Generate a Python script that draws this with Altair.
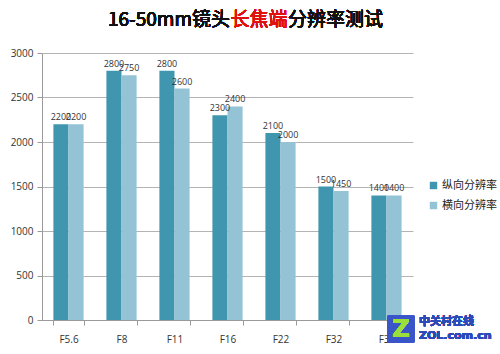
import altair as alt
import pandas as pd

categories = ["F5.6", "F8", "F11", "F16", "F22", "F32", "F36"]
series_names = ["纵向分辨率", "横向分辨率"]
vertical = [2200, 2800, 2800, 2300, 2100, 1500, 1400]
horizontal = [2200, 2750, 2600, 2400, 2000, 1450, 1400]
colors = ["#4196af", "#93c3d5"]
y_ticks = [0, 500, 1000, 1500, 2000, 2500, 3000]

rows = []
for c, v, h in zip(categories, vertical, horizontal):
    rows.append({"aperture": c, "series": series_names[0], "value": v})
    rows.append({"aperture": c, "series": series_names[1], "value": h})
df = pd.DataFrame(rows)

FONT = "Noto Sans CJK SC"
NUMFONT = "Open Sans"

x_enc = alt.X(
    "aperture:N", sort=categories,
    scale=alt.Scale(paddingInner=0.43, paddingOuter=0.215),
    axis=alt.Axis(title=None, labelAngle=0, tickBand="extent", tickSize=5,
                  tickColor="#9a9a9a", domainColor="#9a9a9a",
                  labelFont=NUMFONT, labelFontSize=10, labelColor="#333333",
                  labelPadding=9),
)
xo_enc = alt.XOffset("series:N", sort=series_names,
                     scale=alt.Scale(paddingInner=0, paddingOuter=0))
y_enc = alt.Y(
    "value:Q", scale=alt.Scale(domain=[0, 3000], nice=False),
    axis=alt.Axis(title=None, values=y_ticks, format="d", grid=True, gridColor="#b4b4b4",
                  domainColor="#9a9a9a", tickColor="#9a9a9a", tickSize=5,
                  labelFont=NUMFONT, labelFontSize=10, labelColor="#333333",
                  labelPadding=4),
)

bars = alt.Chart(df).mark_bar().encode(
    x=x_enc, xOffset=xo_enc, y=y_enc,
    color=alt.Color("series:N", sort=series_names,
                    scale=alt.Scale(domain=series_names, range=colors),
                    legend=alt.Legend(title=None, orient="none", legendX=386, legendY=127,
                                      symbolType="square", symbolSize=55,
                                      symbolStrokeWidth=0,
                                      labelFont=FONT, labelFontSize=11, labelOffset=3,
                                      labelColor="#222222", rowPadding=8)),
)

labels = alt.Chart(df).mark_text(
    baseline="bottom", dy=-2, font=NUMFONT, fontSize=9, color="#333333"
).encode(x=alt.X("aperture:N", sort=categories), xOffset=xo_enc,
         y="value:Q", text="value:Q")

t_left = alt.Chart(df).mark_text(
    text="16-50mm镜头", align="right", baseline="middle", font=FONT,
    fontWeight="normal", fontSize=19, color="#111111"
).encode(x=alt.value(188), y=alt.value(-33))
t_mid = alt.Chart(df).mark_text(
    text="长焦端", align="center", baseline="middle", font=FONT,
    fontWeight="normal", fontSize=19, color="#e01010"
).encode(x=alt.value(217), y=alt.value(-33))
t_right = alt.Chart(df).mark_text(
    text="分辨率测试", align="left", baseline="middle", font=FONT,
    fontWeight="normal", fontSize=19, color="#111111"
).encode(x=alt.value(246), y=alt.value(-33))

logo_box = alt.Chart(df).mark_square(size=700, color="#3a55c8", opacity=1).encode(
    x=alt.value(359), y=alt.value(276))
logo_z = alt.Chart(df).mark_text(
    text="Z", font="DejaVu Sans", fontWeight="bold", fontSize=24, color="#9be03a",
    baseline="middle").encode(x=alt.value(359), y=alt.value(277))
wm1 = alt.Chart(df).mark_text(
    text="中关村在线", align="left", baseline="middle", font=FONT, fontWeight="bold",
    fontSize=11, color="#2a4bb8").encode(x=alt.value(377), y=alt.value(269))
wm2 = alt.Chart(df).mark_text(
    text="ZOL.com.cn", align="left", baseline="middle", font="DejaVu Sans",
    fontWeight="bold", fontSize=11, color="#2a4bb8").encode(x=alt.value(377), y=alt.value(283))

chart = alt.layer(bars, labels, t_left, t_mid, t_right, logo_box, logo_z, wm1, wm2).properties(
    width=371, height=267,
    autosize=alt.AutoSizeParams(type="none"),
    padding={"left": 42, "top": 53, "right": 87, "bottom": 34},
    background="white",
).configure_view(stroke=None)

chart.save("out.html", embed_options={"renderer": "svg", "actions": False})
